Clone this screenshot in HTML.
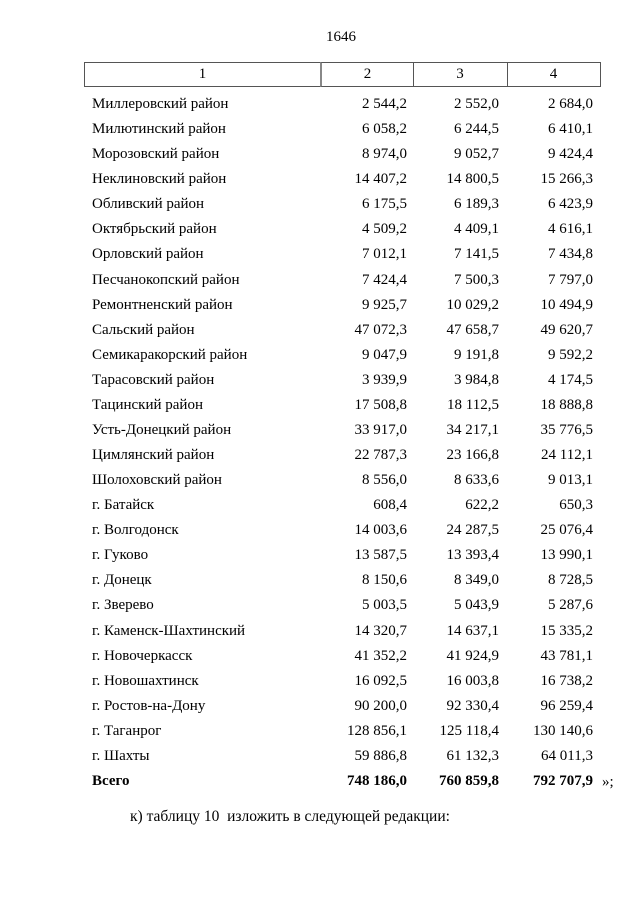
<!DOCTYPE html><html><head><meta charset="utf-8"><style>
body{margin:0;width:640px;height:905px;background:#fff;position:relative;font-family:"Liberation Serif",serif;font-size:15px;color:#000;overflow:hidden}
.a{position:absolute;line-height:20px;white-space:nowrap}
.n{text-align:right}
.hdr{position:absolute;top:62px;height:25px;border:1px solid #555;box-sizing:border-box;line-height:23px;text-align:center}
</style></head><body>
<div class="a" style="left:0;width:682px;text-align:center;top:27px">1646</div>
<div class="hdr" style="left:84px;width:237px">1</div>
<div class="hdr" style="left:320px;width:94px;border-left:2px solid #888">2</div>
<div class="hdr" style="left:413px;width:95px;border-left:none">3</div>
<div class="hdr" style="left:507px;width:94px;border-left:none">4</div>
<div id="rows"></div>
<script>
var d=[["Миллеровский район","2 544,2","2 552,0","2 684,0"],["Милютинский район","6 058,2","6 244,5","6 410,1"],["Морозовский район","8 974,0","9 052,7","9 424,4"],["Неклиновский район","14 407,2","14 800,5","15 266,3"],["Обливский район","6 175,5","6 189,3","6 423,9"],["Октябрьский район","4 509,2","4 409,1","4 616,1"],["Орловский район","7 012,1","7 141,5","7 434,8"],["Песчанокопский район","7 424,4","7 500,3","7 797,0"],["Ремонтненский район","9 925,7","10 029,2","10 494,9"],["Сальский район","47 072,3","47 658,7","49 620,7"],["Семикаракорский район","9 047,9","9 191,8","9 592,2"],["Тарасовский район","3 939,9","3 984,8","4 174,5"],["Тацинский район","17 508,8","18 112,5","18 888,8"],["Усть-Донецкий район","33 917,0","34 217,1","35 776,5"],["Цимлянский район","22 787,3","23 166,8","24 112,1"],["Шолоховский район","8 556,0","8 633,6","9 013,1"],["г. Батайск","608,4","622,2","650,3"],["г. Волгодонск","14 003,6","24 287,5","25 076,4"],["г. Гуково","13 587,5","13 393,4","13 990,1"],["г. Донецк","8 150,6","8 349,0","8 728,5"],["г. Зверево","5 003,5","5 043,9","5 287,6"],["г. Каменск-Шахтинский","14 320,7","14 637,1","15 335,2"],["г. Новочеркасск","41 352,2","41 924,9","43 781,1"],["г. Новошахтинск","16 092,5","16 003,8","16 738,2"],["г. Ростов-на-Дону","90 200,0","92 330,4","96 259,4"],["г. Таганрог","128 856,1","125 118,4","130 140,6"],["г. Шахты","59 886,8","61 132,3","64 011,3"],["Всего","748 186,0","760 859,8","792 707,9"]];
var h="";
d.forEach(function(r,i){var t=(104+i*25.07-10).toFixed(1);var b=i==27?"font-weight:bold;":"";
h+='<div class="a" style="'+b+'left:92px;top:'+t+'px">'+r[0]+'</div>';
h+='<div class="a n" style="'+b+'right:233px;top:'+t+'px">'+r[1]+'</div>';
h+='<div class="a n" style="'+b+'right:141px;top:'+t+'px">'+r[2]+'</div>';
h+='<div class="a n" style="'+b+'right:47px;top:'+t+'px">'+r[3]+'</div>';});
document.getElementById("rows").innerHTML=h;
</script>
<div class="a" style="left:602px;top:772px">»;</div>
<div class="a" style="left:130px;top:807px;font-size:15.5px">к) таблицу 10&nbsp; изложить в следующей редакции:</div>
</body></html>
